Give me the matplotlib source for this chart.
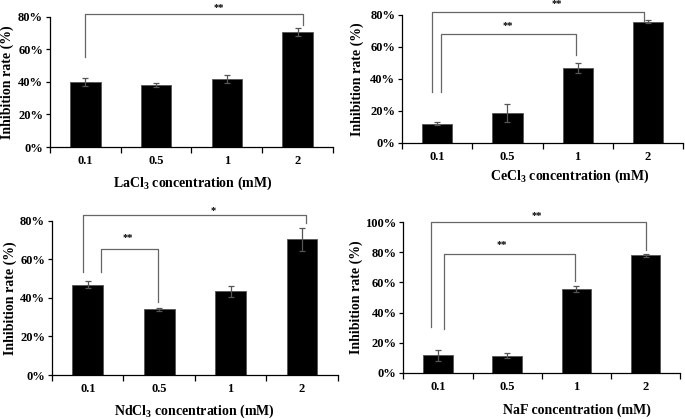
import matplotlib
matplotlib.use("Agg")
import matplotlib.pyplot as plt
from matplotlib.ticker import FixedLocator, PercentFormatter

plt.rcParams['font.family'] = ['Liberation Serif', 'DejaVu Serif']
plt.rcParams['font.weight'] = 'bold'
plt.rcParams['mathtext.fontset'] = 'custom'
plt.rcParams['mathtext.rm'] = 'Liberation Serif:bold'
plt.rcParams['mathtext.it'] = 'Liberation Serif:bold'
plt.rcParams['mathtext.bf'] = 'Liberation Serif:bold'

conc = ["0.1", "0.5", "1", "2"]

la_vals = [39.8, 38.3, 41.8, 70.7]
la_err = [2.5, 1.2, 2.7, 2.3]
ce_vals = [12.0, 18.7, 46.9, 75.7]
ce_err = [1.0, 5.5, 3.0, 0.8]
nd_vals = [46.9, 34.1, 43.4, 70.5]
nd_err = [2.0, 0.8, 2.8, 6.0]
naf_vals = [11.7, 11.4, 55.4, 78.0]
naf_err = [3.8, 1.8, 2.0, 0.9]

xlabels = ["LaCl$_3$ concentration (mM)", "CeCl$_3$ concentration (mM)",
           "NdCl$_3$ concentration (mM)", "NaF concentration (mM)"]
ymax = [80, 80, 80, 100]

# brackets: (x_left, x_right, y_line, y_left_end, y_right_end, star_x, star_y, label)
brackets = [
    [(0.0, 3.08, 82, 55, 75, 1.89, 85.5, "**")],
    [(-0.07, 2.94, 81.7, 32, 76, 1.71, 86.8, "**"),
     (0.06, 1.98, 68, 32, 54.6, 1.01, 73, "**")],
    [(-0.07, 3.06, 83.1, 53.3, 78.8, 1.75, 85.5, "*"),
     (0.18, 0.98, 65.3, 53.7, 38, 0.56, 71.5, "**")],
    [(-0.1, 3.0, 100, 30.5, 81.2, 1.43, 104.5, "**"),
     (0.09, 1.98, 79, 29.4, 61, 0.92, 85, "**")],
]

# axes rectangles (fig fraction) and label placement (axes fraction)
rects = [[0.073, 0.649, 0.413, 0.311], [0.587, 0.659, 0.410, 0.306],
         [0.076, 0.105, 0.417, 0.368], [0.589, 0.110, 0.404, 0.360]]
xlabel_pos = [(0.505, -0.215), (0.598, -0.197), (0.50, -0.18), (0.627, -0.20)]
ylabel_x = [-0.127, -0.135, -0.123, -0.148]

fig = plt.figure(figsize=(6.85, 4.19), dpi=100)
series = [(la_vals, la_err), (ce_vals, ce_err), (nd_vals, nd_err), (naf_vals, naf_err)]
for k, (vals, errs) in enumerate(series):
    ax = fig.add_axes(rects[k])
    x = list(range(len(conc)))
    ax.bar(x, vals, width=0.43, color='black', edgecolor='#555555', linewidth=0.6,
           yerr=errs, ecolor='#555555', error_kw=dict(elinewidth=0.9, capsize=2, capthick=0.9))
    ax.set_xlim(-0.5, 3.5)
    ax.set_ylim(0, ymax[k])
    ax.yaxis.set_major_locator(FixedLocator(list(range(0, ymax[k] + 1, 20))))
    ax.yaxis.set_major_formatter(PercentFormatter(decimals=0))
    ax.xaxis.set_major_locator(FixedLocator([-0.5, 0.5, 1.5, 2.5, 3.5]))
    ax.xaxis.set_major_formatter(plt.NullFormatter())
    ax.xaxis.set_minor_locator(FixedLocator(x))
    ax.set_xticklabels(conc, minor=True)
    ax.tick_params(axis='x', which='major', length=4, width=0.9, direction='out')
    ax.tick_params(axis='x', which='minor', length=0, pad=6, labelsize=9)
    ax.tick_params(axis='y', length=3, width=0.9, pad=2, labelsize=9)
    for s in ['top', 'right']:
        ax.spines[s].set_visible(False)
    for s in ['left', 'bottom']:
        ax.spines[s].set_linewidth(0.9)
    ax.set_xlabel(xlabels[k], fontsize=10, fontweight='bold')
    ax.xaxis.set_label_coords(*xlabel_pos[k])
    ax.set_ylabel("Inhibition rate (%)", fontsize=10, fontweight='bold')
    ax.yaxis.set_label_coords(ylabel_x[k], 0.5)
    for (xl, xr, yl, yle, yre, sx, sy, lab) in brackets[k]:
        ax.plot([xl, xl, xr, xr], [yle, yl, yl, yre], color='#666666', lw=0.9, clip_on=False)
        ax.text(sx, sy, lab, ha='center', va='center', fontsize=7.5, fontweight='bold', clip_on=False)

fig.savefig("out.png", dpi=100)
